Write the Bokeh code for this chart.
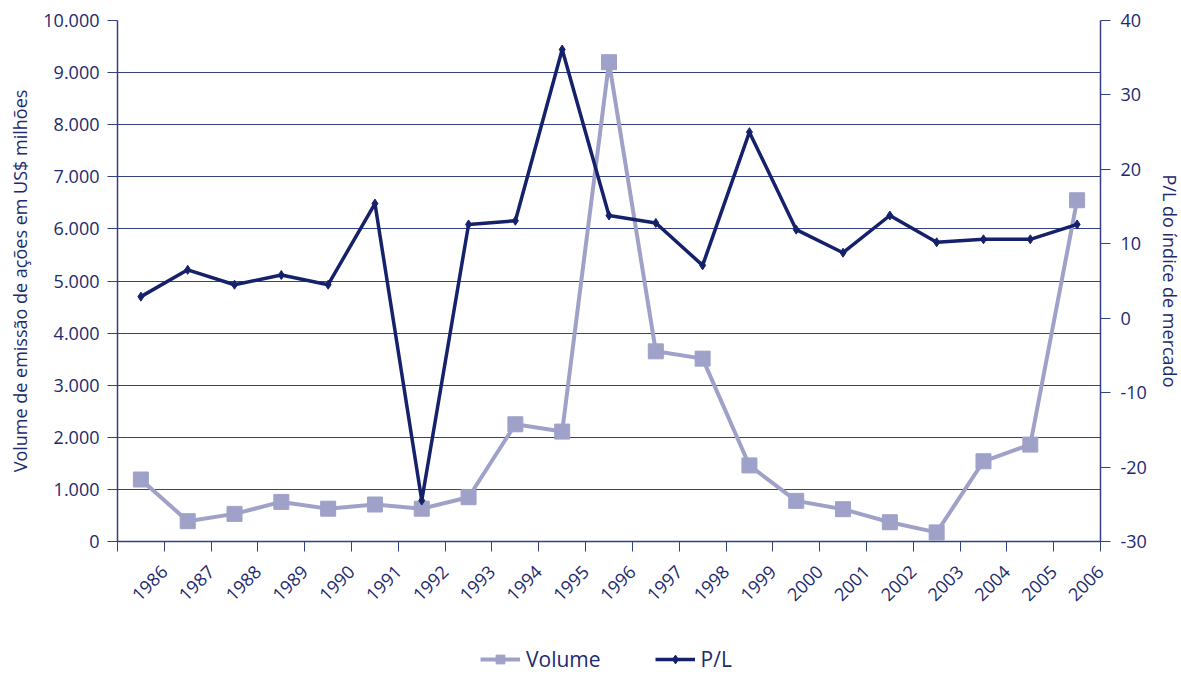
import numpy as np
from bokeh.plotting import figure
from bokeh.layouts import column
from bokeh.models import Range1d, LinearAxis, FixedTicker, Legend, LegendItem, ColumnDataSource
from bokeh.embed import file_html
from bokeh.resources import INLINE

years = [str(y) for y in range(1986, 2007)]
volume = [1190, 390, 530, 760, 630, 710, 630, 850, 2250, 2110, 9200, 3650, 3510, 1460,
          780, 620, 370, 175, 1540, 1860, 6550]
pl = [2.9, 6.5, 4.5, 5.8, 4.5, 15.4, -24.5, 12.6, 13.1, 36.1, 13.8, 12.8, 7.1, 25.0,
      11.9, 8.8, 13.8, 10.2, 10.6, 10.6, 12.6]
left_ticks = [0, 1000, 2000, 3000, 4000, 5000, 6000, 7000, 8000, 9000, 10000]
left_labels = ["0", "1.000", "2.000", "3.000", "4.000", "5.000", "6.000", "7.000",
               "8.000", "9.000", "10.000"]
right_ticks = [-30, -20, -10, 0, 10, 20, 30, 40]
right_labels = ["-30", "-20", "-10", "0", "10", "20", "30", "40"]
series_names = ["Volume", "P/L"]

NAVY = "#15216b"
LAV = "#9fa1c8"
TXT = "#1d2a6e"
AX = "#34407f"
FONT = "Open Sans"

n = len(years)
xpos = np.arange(n) + 0.5
src = ColumnDataSource(dict(x=xpos, vol=volume, pl=pl, year=years))

p = figure(frame_width=983, frame_height=521, output_backend="svg", toolbar_location=None,
           x_range=Range1d(0, n), y_range=Range1d(0, 10000),
           min_border_left=117, min_border_right=70, min_border_top=20, min_border_bottom=101)
p.outline_line_color = None
p.background_fill_color = "white"
p.border_fill_color = "white"
p.extra_y_ranges = {"pl": Range1d(-30, 40)}

# x axis: ticks at category boundaries, label at right boundary of each category
p.xaxis.ticker = FixedTicker(ticks=list(range(0, n + 1)))
p.xaxis.major_label_overrides = {0: ""} | {i + 1: years[i] for i in range(n)}
p.xaxis.major_label_orientation = np.pi / 4
p.xaxis.minor_tick_line_color = None
p.xaxis.major_tick_in = 0
p.xaxis.major_tick_out = 10
p.xaxis.axis_line_color = AX
p.xaxis.major_tick_line_color = AX
p.xaxis.axis_line_width = 1.5
p.xaxis.major_label_text_font = FONT
p.xaxis.major_label_text_font_size = "18px"
p.xaxis.major_label_text_color = TXT
p.xaxis.major_label_standoff = 17

# left axis
p.yaxis.ticker = FixedTicker(ticks=left_ticks)
p.yaxis.major_label_overrides = {t: l for t, l in zip(left_ticks, left_labels)}
p.yaxis.minor_tick_line_color = None
p.yaxis.major_tick_in = 0
p.yaxis.major_tick_out = 10
p.yaxis.axis_line_color = AX
p.yaxis.major_tick_line_color = AX
p.yaxis.axis_line_width = 1.5
p.yaxis.major_label_text_font = FONT
p.yaxis.major_label_text_font_size = "18px"
p.yaxis.major_label_text_color = TXT
p.yaxis.major_label_standoff = 8
p.yaxis.axis_label = "Volume de emissão de ações em US$ milhões"
p.yaxis.axis_label_text_font = FONT
p.yaxis.axis_label_text_font_size = "18px"
p.yaxis.axis_label_text_font_style = "normal"
p.yaxis.axis_label_text_color = TXT
p.yaxis.axis_label_standoff = 8

# right axis
ra = LinearAxis(y_range_name="pl", ticker=FixedTicker(ticks=right_ticks))
ra.major_label_overrides = {t: l for t, l in zip(right_ticks, right_labels)}
ra.minor_tick_line_color = None
ra.major_tick_in = 0
ra.major_tick_out = 10
ra.axis_line_color = AX
ra.major_tick_line_color = AX
ra.axis_line_width = 1.5
ra.major_label_text_font = FONT
ra.major_label_text_font_size = "18px"
ra.major_label_text_color = TXT
ra.major_label_standoff = 10
ra.axis_label = "P/L do índice de mercado"
ra.axis_label_text_font = FONT
ra.axis_label_text_font_size = "18px"
ra.axis_label_text_font_style = "normal"
ra.axis_label_text_color = TXT
ra.axis_label_standoff = 8
p.add_layout(ra, "right")

p.xgrid.grid_line_color = None
p.ygrid.grid_line_color = AX
p.ygrid.grid_line_width = 1.2
p.ygrid.ticker = FixedTicker(ticks=left_ticks)

p.line("x", "vol", source=src, line_color=LAV, line_width=4)
p.scatter("x", "vol", source=src, marker="square", size=15, fill_color=LAV, line_color=LAV)
p.line("x", "pl", source=src, y_range_name="pl", line_color=NAVY, line_width=3.5)
p.scatter("x", "pl", source=src, y_range_name="pl", marker="diamond", size=9,
          fill_color=NAVY, line_color=NAVY)

# legend strip below the chart (its renderers use the same data, kept out of view)
lg = figure(width=1170, height=32, output_backend="svg", toolbar_location=None,
            x_range=Range1d(0, n), y_range=Range1d(20000, 20001),
            x_axis_type=None, y_axis_type=None, min_border=0)
lg.outline_line_color = None
lg.xgrid.grid_line_color = None
lg.ygrid.grid_line_color = None
r1 = lg.line("x", "vol", source=src, line_color=LAV, line_width=4)
r2 = lg.scatter("x", "vol", source=src, marker="square", size=15, fill_color=LAV, line_color=LAV)
r3 = lg.line("x", "pl", source=src, line_color=NAVY, line_width=3.5)
r4 = lg.scatter("x", "pl", source=src, marker="diamond", size=9, fill_color=NAVY, line_color=NAVY)
legend = Legend(items=[LegendItem(label=series_names[0], renderers=[r1, r2]),
                       LegendItem(label=series_names[1], renderers=[r3, r4])],
                orientation="horizontal", location=(363, 1),
                label_text_font=FONT, label_text_font_size="21px", label_text_color=TXT,
                glyph_width=40, glyph_height=22, label_standoff=6, spacing=54,
                padding=0, margin=0, border_line_color=None, background_fill_alpha=0)
lg.add_layout(legend, "center")

layout = column(p, lg, spacing=0)
open("out.html", "w").write(file_html(layout, INLINE))
